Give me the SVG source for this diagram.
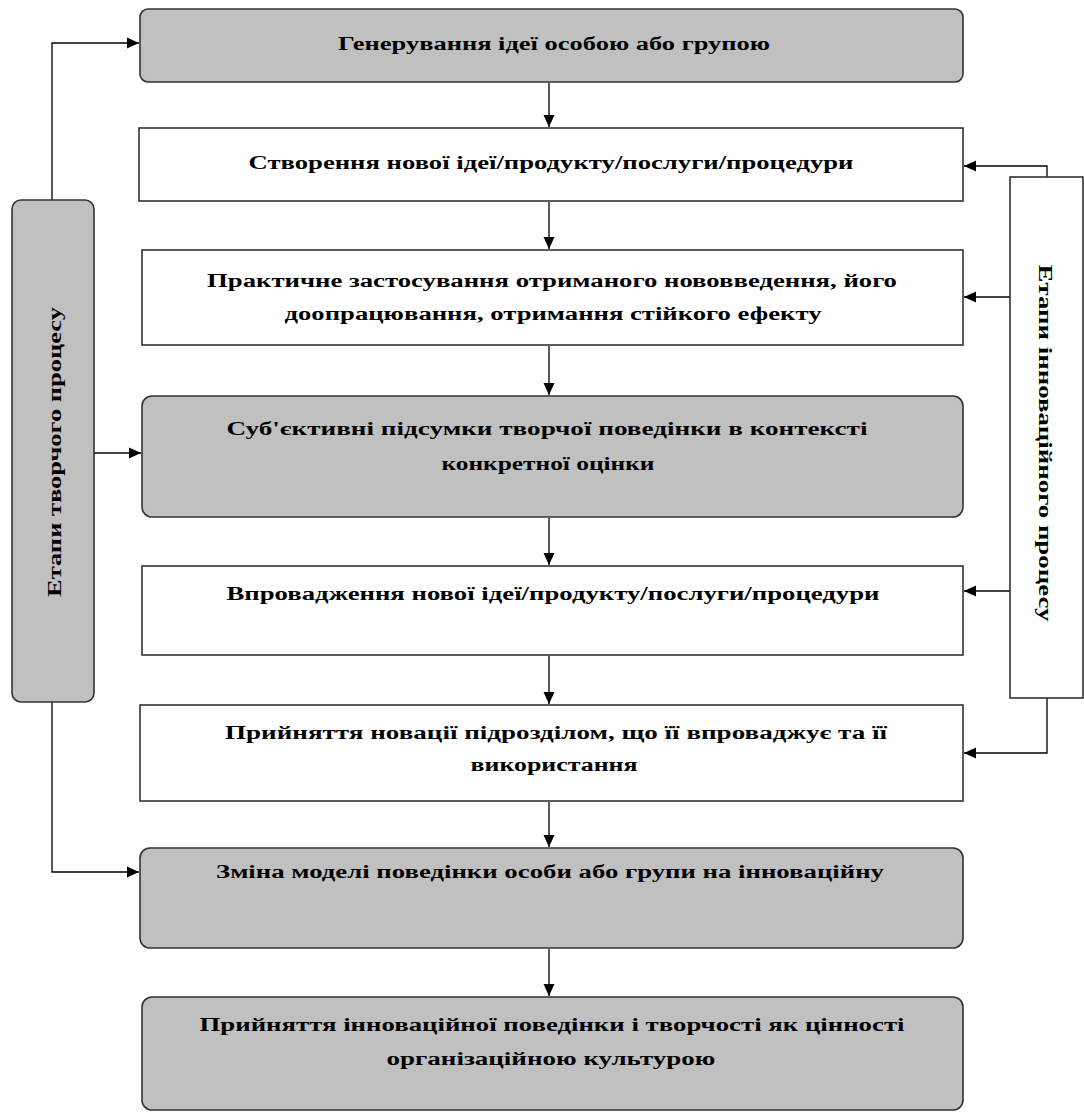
<svg xmlns="http://www.w3.org/2000/svg" width="1084" height="1117" viewBox="0 0 1084 1117">
<style>
.g{fill:#c0c0c0;stroke:#333;stroke-width:1.6}
.w{fill:#fff;stroke:#333;stroke-width:1.6}
.t{font-family:"Liberation Serif","DejaVu Serif",serif;font-weight:bold;font-size:18.5px;fill:#000;text-anchor:middle}
.c{fill:none;stroke:#000;stroke-width:1.3}
</style>
<defs>
<marker id="ah" viewBox="0 0 12 12" refX="12" refY="6" markerWidth="12" markerHeight="12" markerUnits="userSpaceOnUse" orient="auto">
<path d="M0,0.5 L12,6 L0,11.5 Z" fill="#000"/>
</marker>
</defs>
<rect width="1084" height="1117" fill="#fff"/>
<g id="connectors">
<path class="c" d="M549,83 V127" marker-end="url(#ah)"/>
<path class="c" d="M549,202 V249" marker-end="url(#ah)"/>
<path class="c" d="M549,346 V395" marker-end="url(#ah)"/>
<path class="c" d="M549,518 V565" marker-end="url(#ah)"/>
<path class="c" d="M549,656 V704" marker-end="url(#ah)"/>
<path class="c" d="M549,802 V847" marker-end="url(#ah)"/>
<path class="c" d="M549,949 V996" marker-end="url(#ah)"/>
<path class="c" d="M52,200 V43 H139" marker-end="url(#ah)"/>
<path class="c" d="M94,453 H141" marker-end="url(#ah)"/>
<path class="c" d="M52,702 V872 H139" marker-end="url(#ah)"/>
<path class="c" d="M1047,177 V166 H964" marker-end="url(#ah)"/>
<path class="c" d="M1010,297 H964" marker-end="url(#ah)"/>
<path class="c" d="M1010,591 H964" marker-end="url(#ah)"/>
<path class="c" d="M1047,698 V753 H964" marker-end="url(#ah)"/>
</g>
<g id="n1"><rect class="g" x="140" y="9" width="823" height="73" rx="8"/>
<text class="t" x="554" y="50" textLength="432" lengthAdjust="spacingAndGlyphs">Генерування ідеї особою або групою</text></g>
<g id="n2"><rect class="w" x="139" y="128" width="824" height="73"/>
<text class="t" x="551" y="169" textLength="605" lengthAdjust="spacingAndGlyphs">Створення нової ідеї/продукту/послуги/процедури</text></g>
<g id="n3"><rect class="w" x="142" y="250" width="821" height="95"/>
<text class="t" x="552" y="287" textLength="690" lengthAdjust="spacingAndGlyphs">Практичне застосування отриманого нововведення, його</text>
<text class="t" x="553" y="320" textLength="537" lengthAdjust="spacingAndGlyphs">доопрацювання, отримання стійкого ефекту</text></g>
<g id="n4"><rect class="g" x="142" y="396" width="821" height="121" rx="10"/>
<text class="t" x="547" y="435" textLength="641" lengthAdjust="spacingAndGlyphs">Суб'єктивні підсумки творчої поведінки в контексті</text>
<text class="t" x="548" y="470" textLength="213" lengthAdjust="spacingAndGlyphs">конкретної оцінки</text></g>
<g id="n5"><rect class="w" x="142" y="566" width="821" height="89"/>
<text class="t" x="553" y="600" textLength="653" lengthAdjust="spacingAndGlyphs">Впровадження нової ідеї/продукту/послуги/процедури</text></g>
<g id="n6"><rect class="w" x="140" y="705" width="823" height="96"/>
<text class="t" x="556" y="739" textLength="662" lengthAdjust="spacingAndGlyphs">Прийняття новації підрозділом, що її впроваджує та її</text>
<text class="t" x="554" y="771" textLength="167" lengthAdjust="spacingAndGlyphs">використання</text></g>
<g id="n7"><rect class="g" x="140" y="848" width="823" height="100" rx="10"/>
<text class="t" x="550" y="878" textLength="668" lengthAdjust="spacingAndGlyphs">Зміна моделі поведінки особи або групи на інноваційну</text></g>
<g id="n8"><rect class="g" x="142" y="997" width="821" height="113" rx="10"/>
<text class="t" x="552" y="1031" textLength="705" lengthAdjust="spacingAndGlyphs">Прийняття інноваційної поведінки і творчості як цінності</text>
<text class="t" x="551" y="1065" textLength="329" lengthAdjust="spacingAndGlyphs">організаційною культурою</text></g>
<g id="left"><rect class="g" x="12" y="200" width="82" height="502" rx="9"/>
<text class="t" transform="translate(61,452) rotate(-90)" textLength="290" lengthAdjust="spacingAndGlyphs">Етапи творчого процесу</text></g>
<g id="right"><rect class="w" x="1010" y="177" width="73" height="521"/>
<text class="t" transform="translate(1039,443) rotate(90)" textLength="357" lengthAdjust="spacingAndGlyphs">Етапи інноваційного процесу</text></g>
</svg>
